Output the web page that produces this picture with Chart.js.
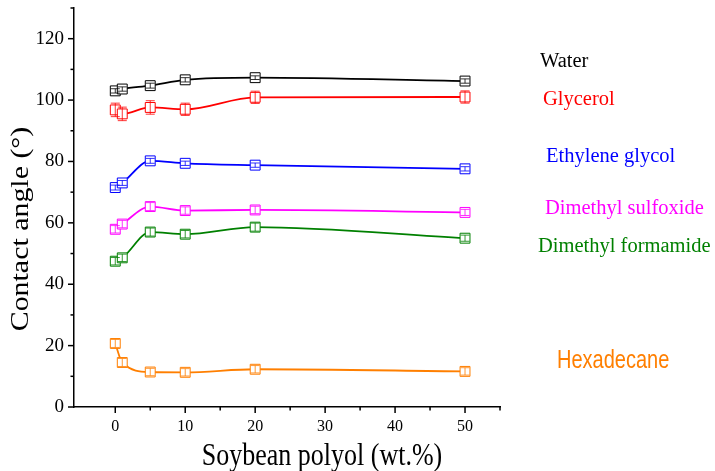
<!DOCTYPE html>
<html>
<head>
<meta charset="utf-8">
<script src="https://cdn.jsdelivr.net/npm/chart.js@4.4.1/dist/chart.umd.min.js"></script>
<style>
  html, body { margin: 0; padding: 0; background: #fff; }
  #wrap { width: 715px; height: 471px; }
</style>
</head>
<body>
<div id="wrap"><canvas id="angleChart" width="715" height="471"></canvas></div>
<script>
// polyol content (wt.%)
const loading = [0, 1, 5, 10, 20, 50];

const water = [103.0, 103.6, 104.7, 106.6, 107.3, 106.2];
const glycerol = [96.8, 95.5, 97.6, 97.0, 100.9, 101.0];
const ethyleneGlycol = [71.5, 73.0, 80.2, 79.4, 78.8, 77.6];
const dmso = [57.9, 59.6, 65.3, 64.0, 64.2, 63.4];
const dmf = [47.5, 48.6, 57.0, 56.3, 58.6, 55.0];
const hexadecane = [20.7, 14.5, 11.4, 11.3, 12.3, 11.6];

// error bars (deg)
const waterErr = [0.7, 0.7, 0.8, 0.7, 0.6, 0.7];
const glycerolErr = [2.2, 2.2, 2.2, 2.0, 2.0, 2.0];
const egErr = [0.8, 0.8, 0.8, 0.7, 0.7, 0.7];
const dmsoErr = [1.2, 1.2, 1.3, 1.2, 1.2, 1.0];
const dmfErr = [1.2, 1.2, 1.3, 1.2, 1.3, 1.0];
const hexErr = [1.3, 1.3, 1.2, 1.2, 1.2, 1.2];

const liquids = ["Water", "Glycerol", "Ethylene glycol", "Dimethyl sulfoxide", "Dimethyl formamide", "Hexadecane"];
const colors = ["#000000", "#ff0000", "#0000ff", "#ff00ff", "#008000", "#ff7f00"];
const series = [water, glycerol, ethyleneGlycol, dmso, dmf, hexadecane];
const errors = [waterErr, glycerolErr, egErr, dmsoErr, dmfErr, hexErr];

const xTicks = [0, 10, 20, 30, 40, 50];
const yTicks = [0, 20, 40, 60, 80, 100, 120];

const serif = "'Liberation Serif', 'Times New Roman', serif";
const sans = "'Liberation Sans', Arial, sans-serif";

const datasets = series.map((vals, i) => ({
  label: liquids[i],
  data: loading.map((x, j) => ({ x: x, y: vals[j], err: errors[i][j] })),
  borderColor: colors[i],
  backgroundColor: "#ffffff",
  borderWidth: 1.8,
  pointStyle: "rect",
  pointRadius: 7,
  pointBorderWidth: 1,
  pointBorderColor: colors[i],
  pointBackgroundColor: "#ffffff",
  cubicInterpolationMode: "monotone",
}));

// error bars drawn on top of the markers
const errorBars = {
  id: "errorBars",
  afterDatasetsDraw(chart) {
    const ctx = chart.ctx;
    const xs = chart.scales.x, ys = chart.scales.y;
    ctx.save();
    chart.data.datasets.forEach((ds) => {
      ctx.strokeStyle = ds.borderColor;
      ctx.lineWidth = 0.8;
      ds.data.forEach((p) => {
        const px = xs.getPixelForValue(p.x);
        const top = ys.getPixelForValue(p.y + p.err);
        const bot = ys.getPixelForValue(p.y - p.err);
        ctx.beginPath();
        ctx.moveTo(px, top); ctx.lineTo(px, bot);
        ctx.moveTo(px - 4.5, top); ctx.lineTo(px + 4.5, top);
        ctx.moveTo(px - 4.5, bot); ctx.lineTo(px + 4.5, bot);
        ctx.stroke();
      });
    });
    ctx.restore();
  }
};

// outward axis ticks, major + minor
const axisTicks = {
  id: "axisTicks",
  afterDraw(chart) {
    const ctx = chart.ctx;
    const xs = chart.scales.x, ys = chart.scales.y;
    const area = chart.chartArea;
    ctx.save();
    ctx.strokeStyle = "#000";
    ctx.lineWidth = 1.5;
    for (let v = 0; v <= 55; v += 5) {
      const px = xs.getPixelForValue(v);
      const len = v % 10 === 0 ? 6 : 3.5;
      ctx.beginPath();
      ctx.moveTo(px, area.bottom); ctx.lineTo(px, area.bottom + len);
      ctx.stroke();
    }
    for (let v = 0; v <= 130; v += 10) {
      const py = ys.getPixelForValue(v);
      const len = v % 20 === 0 ? 6 : 3.5;
      ctx.beginPath();
      ctx.moveTo(area.left, py); ctx.lineTo(area.left - len, py);
      ctx.stroke();
    }
    ctx.restore();
  }
};

function stretchedText(ctx, text, x, y, font, color, sy, rot) {
  ctx.save();
  ctx.translate(x, y);
  if (rot) ctx.rotate(rot);
  ctx.scale(rot ? sy : 1, rot ? 1 : sy);
  ctx.font = font;
  ctx.fillStyle = color;
  ctx.fillText(text, 0, 0);
  ctx.restore();
}

// liquid names beside the curves, plus axis titles
const labelPos = [
  { x: 540, y: 67, font: "20.5px " + serif, sy: 1 },
  { x: 543, y: 105, font: "20.5px " + serif, sy: 1 },
  { x: 546, y: 162, font: "20.5px " + serif, sy: 1 },
  { x: 545, y: 214, font: "20.5px " + serif, sy: 1 },
  { x: 538, y: 252, font: "20.5px " + serif, sy: 1 },
  { x: 557, y: 368, font: "20px " + sans, sy: 1.25 },
];
const textLayer = {
  id: "textLayer",
  afterDraw(chart) {
    const ctx = chart.ctx;
    ctx.save();
    ctx.textBaseline = "alphabetic";
    ctx.textAlign = "left";
    liquids.forEach((name, i) => {
      const p = labelPos[i];
      stretchedText(ctx, name, p.x, p.y, p.font, colors[i], p.sy, 0);
    });
    ctx.textAlign = "center";
    stretchedText(ctx, "Soybean polyol (wt.%)", 322, 465, "26px " + serif, "#000", 1.25, 0);
    stretchedText(ctx, "Contact angle (°)", 28, 229, "26px " + serif, "#000", 1.15, -Math.PI / 2);
    ctx.restore();
  }
};

new Chart(document.getElementById("angleChart"), {
  type: "line",
  data: { datasets: datasets },
  options: {
    responsive: false,
    animation: false,
    devicePixelRatio: 1,
    layout: { padding: { top: 7, right: 215, left: 0, bottom: 0 } },
    plugins: { legend: { display: false }, tooltip: { enabled: false } },
    scales: {
      x: {
        type: "linear",
        min: -5.9,
        max: 55.0,
        afterBuildTicks: (s) => { s.ticks = xTicks.map((v) => ({ value: v })); },
        afterFit: (s) => { s.height = 64; s.paddingLeft = 0; s.paddingRight = 0; },
        grid: { display: false, drawTicks: false },
        border: { display: true, color: "#000", width: 1.5 },
        ticks: { padding: 10, color: "#000", font: { family: serif, size: 16 } },
      },
      y: {
        type: "linear",
        min: 0,
        max: 130,
        afterBuildTicks: (s) => { s.ticks = yTicks.map((v) => ({ value: v })); },
        afterFit: (s) => { s.width = 74; s.paddingTop = 0; s.paddingBottom = 0; },
        grid: { display: false, drawTicks: false },
        border: { display: true, color: "#000", width: 1.5 },
        ticks: { padding: 10, color: "#000", font: { family: serif, size: 19 } },
      },
    },
  },
  plugins: [errorBars, axisTicks, textLayer],
});
</script>
</body>
</html>
